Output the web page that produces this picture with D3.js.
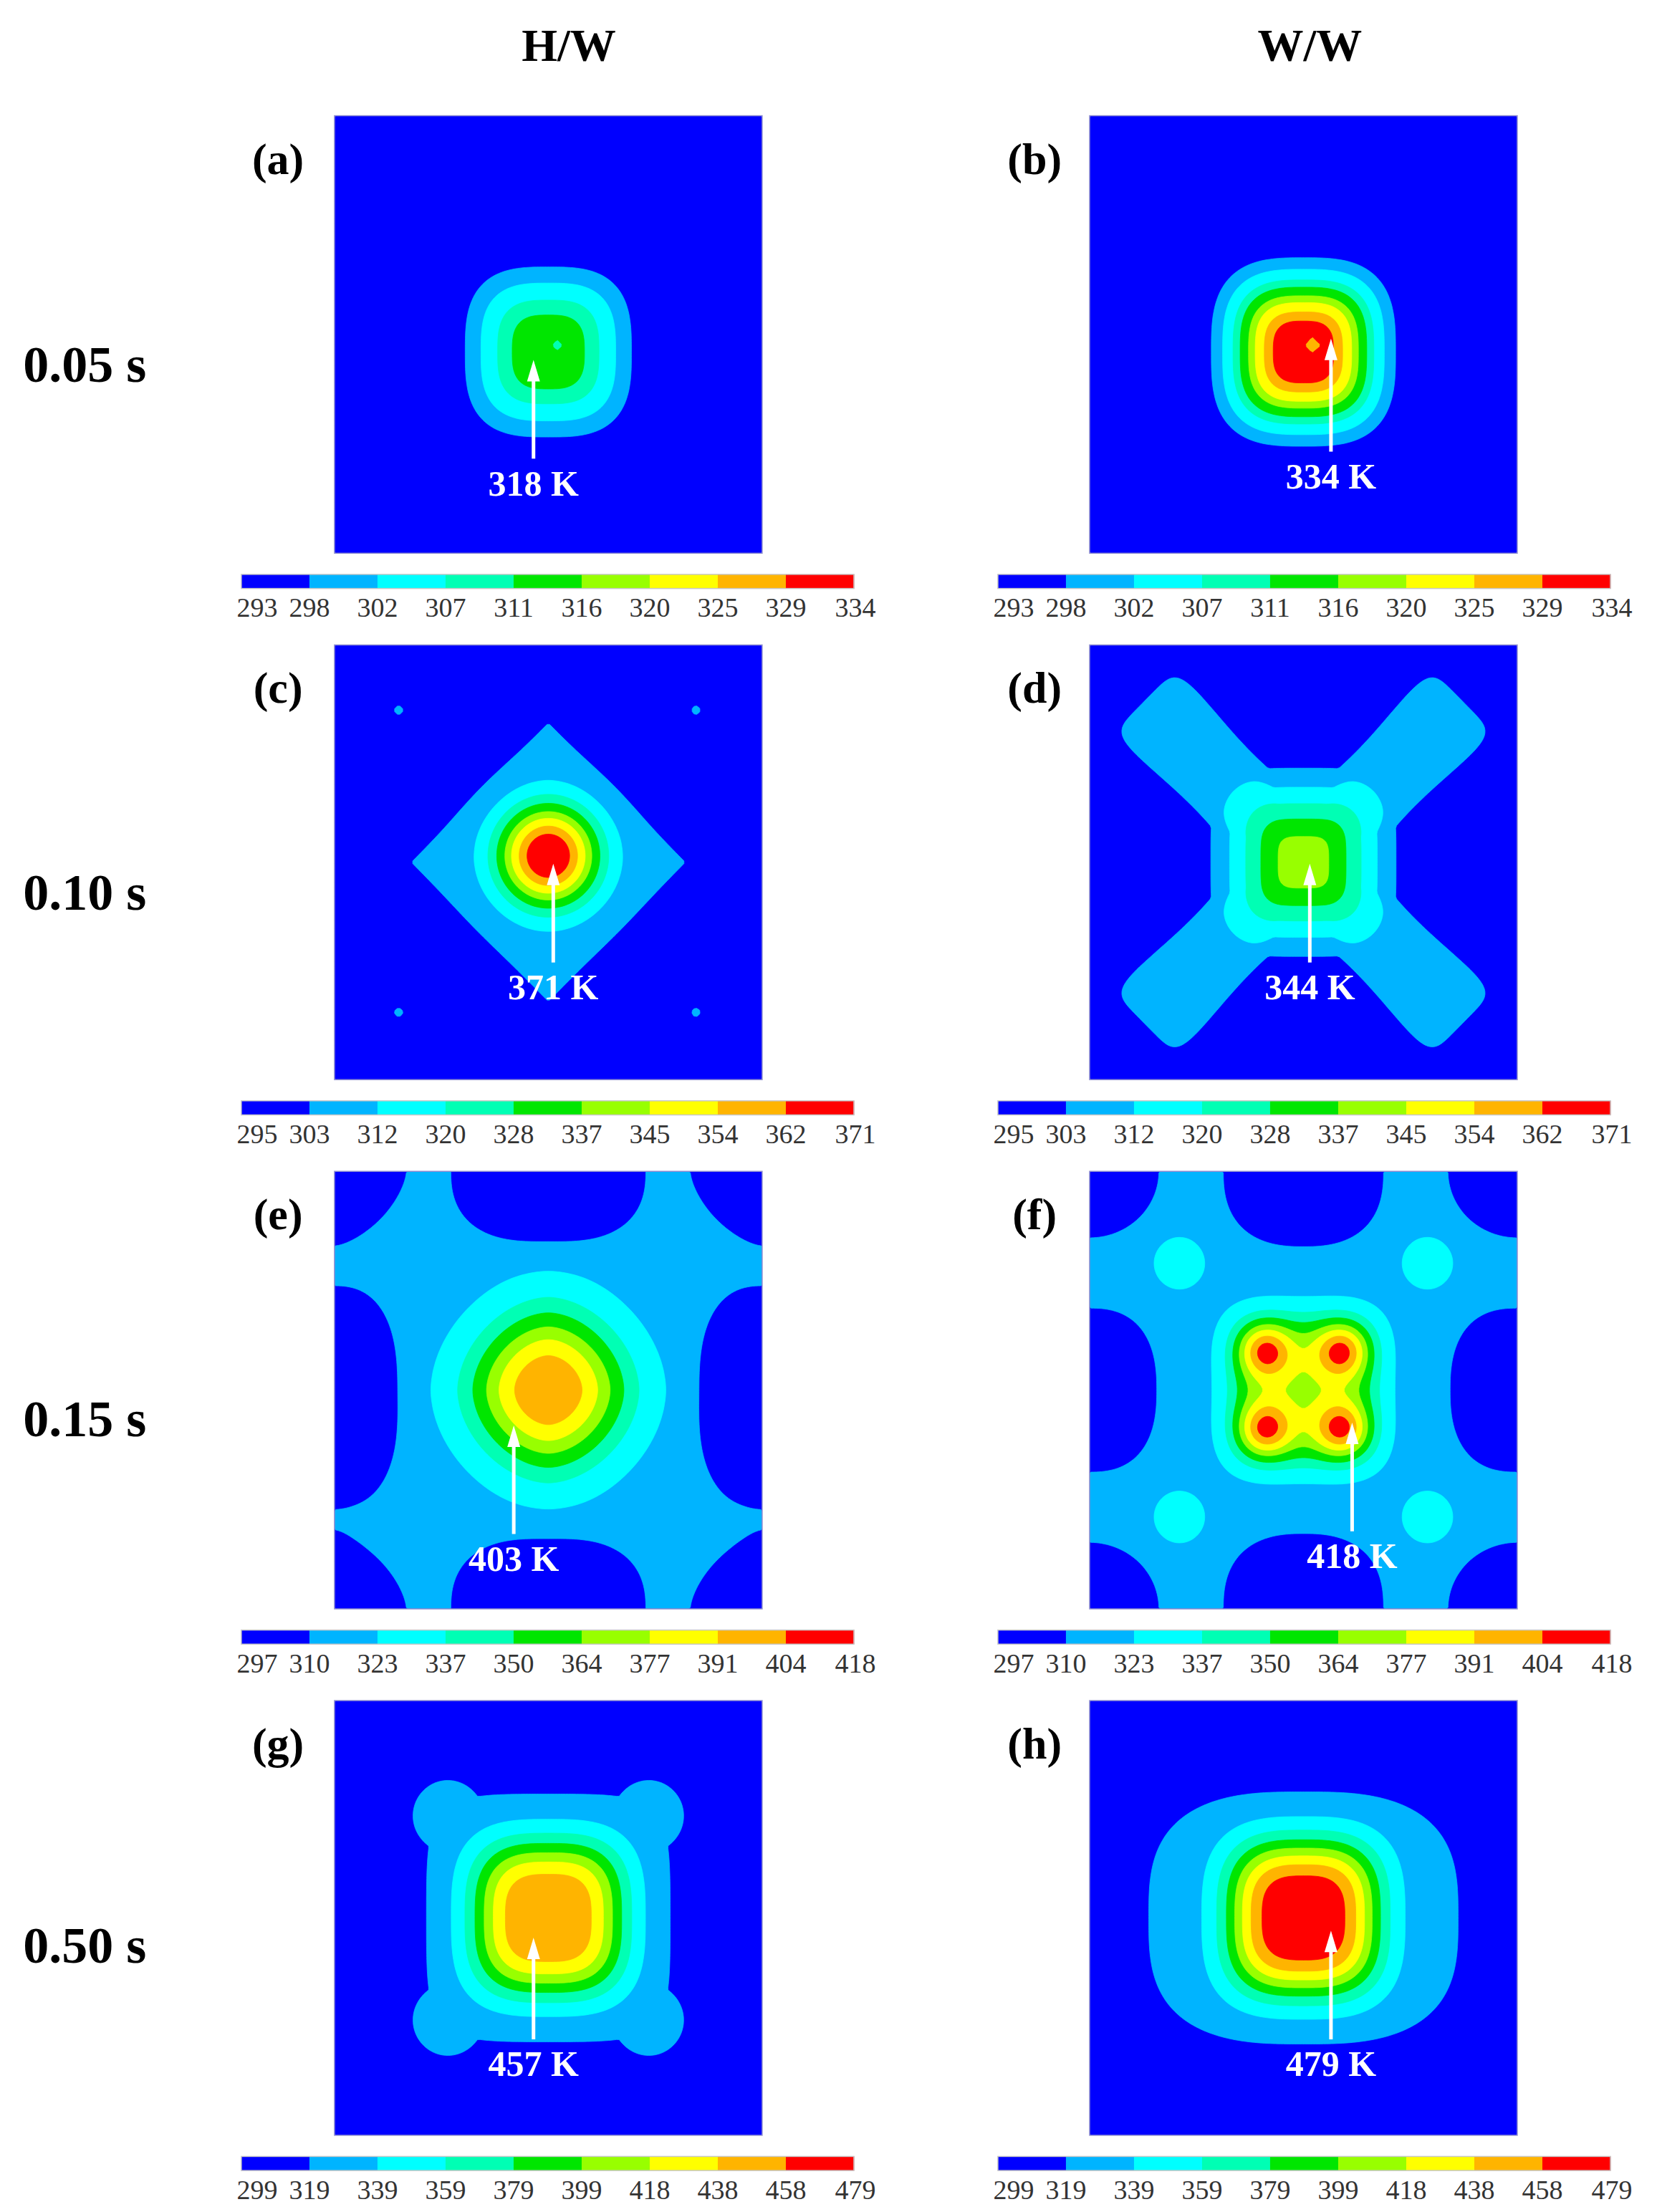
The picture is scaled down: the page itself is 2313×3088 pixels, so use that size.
<!DOCTYPE html>
<html><head><meta charset="utf-8">
<script src="https://cdn.jsdelivr.net/npm/d3@7"></script>
<style>body{margin:0;background:#fff}</style></head>
<body><svg id="c" width="2313" height="3088"></svg>
<script>
// ---- data ----
const columns = ["H/W","W/W"];
const times = ["0.05 s","0.10 s","0.15 s","0.50 s"];
const panelLetters = ["(a)","(b)","(c)","(d)","(e)","(f)","(g)","(h)"];
const tickLabels = [
  [293,298,302,307,311,316,320,325,329,334],
  [295,303,312,320,328,337,345,354,362,371],
  [297,310,323,337,350,364,377,391,404,418],
  [299,319,339,359,379,399,418,438,458,479]
];
const bandColors = ["#0000ff","#00b4ff","#00ffff","#00ffb4","#00e600","#98ff00","#ffff00","#ffb400","#ff0000"];
const peakLabels = ["318 K","334 K","371 K","344 K","403 K","418 K","457 K","479 K"];
const baseT = [293,293,295,295,317,317,299,299];
// components: [kind, cx, cy, sx, sy, amp, p, q]  kind P=plateau(max), A=add, X=diagonal arm (sx=length, sy=w0, q=w slope, cx=+1/-1 direction)
const compA = [["A",0,0.08,0.33,0.33,22,2.4,3],["A",0.04,0.05,0.05,0.05,-5,2,1]];
const compB = [["A",0,0.08,0.32,0.32,41,2.5,3],["A",0.04,0.05,0.05,0.05,-8,2,1]];
const compC = [["P",0,0,0.717,0.717,12,8,1],["A",0,-0.03,0.23,0.23,64,2.26,2],
  ["P",-0.70,-0.70,0.025,0.025,12,4,2],["P",0.69,-0.70,0.025,0.025,12,4,2],["P",-0.70,0.69,0.025,0.025,12,4,2],["P",0.69,0.69,0.025,0.025,12,4,2]];
const compD = [["X",1,0,1.12,0.15,12,6,0.1],["X",-1,0,1.12,0.15,12,6,0.1],["P",0,0,0.44,0.44,12,6,4],["A",0,0,0.27,0.27,37,1.9,4]];
const compE = [["A",0,-1,0.45,0.33,-20,4,2.5],["A",0,1,0.45,0.33,-20,4,2.5],["A",-1,0.03,0.3,0.5,-20,4,2.5],["A",1,0.03,0.3,0.5,-20,4,2.5],
  ["A",-1,-1,0.33,0.33,-20,4,1.6],["A",1,-1,0.33,0.33,-20,4,1.6],["A",-1,1,0.33,0.33,-20,4,1.6],["A",1,1,0.33,0.33,-20,4,1.6],
  ["A",0,0,0.36,0.36,86,2.3,1.8]];
const compF = [["A",0,-1,0.37,0.34,-20,4,2.5],["A",0,1,0.37,0.34,-20,4,2.5],["A",-1,0,0.31,0.37,-20,4,2.5],["A",1,0,0.31,0.37,-20,4,2.5],
  ["A",-1,-1,0.32,0.3,-20,4,2],["A",1,-1,0.32,0.3,-20,4,2],["A",-1,1,0.32,0.3,-20,4,2],["A",1,1,0.32,0.3,-20,4,2],
  ["A",-0.58,-0.58,0.13,0.13,12,4,2],["A",0.58,-0.58,0.13,0.13,12,4,2],["A",-0.58,0.58,0.13,0.13,12,4,2],["A",0.58,0.58,0.13,0.13,12,4,2],
  ["A",0,0,0.35,0.35,55,4,4],
  ["A",-0.18,-0.18,0.12,0.12,46,2,2],["A",0.18,-0.18,0.12,0.12,46,2,2],["A",-0.18,0.18,0.12,0.12,46,2,2],["A",0.18,0.18,0.12,0.12,46,2,2]];
const compG = [["P",0,0,0.63,0.63,30,8,5],["P",-0.47,-0.47,0.22,0.22,30,3,2],["P",0.47,-0.47,0.22,0.22,30,3,2],["P",-0.47,0.47,0.22,0.22,30,3,2],["P",0.47,0.47,0.22,0.22,30,3,2],
  ["A",0,0,0.35,0.35,128,3.3,3]];
const compH = [["P",0,0,0.81,0.64,30,8,3],["A",0,0,0.35,0.35,150,3.2,3]];
const components = [compA,compB,compC,compD,compE,compF,compG,compH];
// annotation positions (reference display units, scaled by K): [labelX, labelY, arrowTopY, arrowBottomY]
const arrowsRef = [[378,343,255,325],[943,338,240,320],[392,700,612,682],[928,700,612,682],[364,1105,1010,1087],[958,1103,1008,1085],[378,1463,1373,1445],[943,1463,1368,1445]];

// ---- layout ----
const K = 2313/1174;
const colX = [[237,540],[772,1075]];
const rowY = [[82,392],[457,765],[830,1140],[1205,1513]];
const cbX = [[171,605],[707,1141]];

const svg = d3.select("#c");
const serif = "'Liberation Serif','Times New Roman',serif";

function field(comps, base, u, v){
  let plat = 0, add = 0;
  for (const c of comps){
    const [k,cx,cy,sx,sy,amp,p,q] = c;
    let val;
    if (k === "X"){
      const s = Math.SQRT1_2;
      const a = (u + cx*v)*s, b = (u - cx*v)*s;
      const w = sy + q*Math.abs(a);
      val = amp*Math.exp(-Math.pow(Math.abs(b)/w, p))*Math.exp(-Math.pow(Math.abs(a)/sx, 14));
      plat = Math.max(plat, val); continue;
    }
    const r = Math.pow(Math.pow(Math.abs(u-cx)/sx,q)+Math.pow(Math.abs(v-cy)/sy,q),1/q);
    val = amp*Math.exp(-Math.pow(r,p));
    if (k === "P") plat = Math.max(plat,val); else add += val;
  }
  return base + plat + add;
}

const N = 160;
svg.append("defs");
for (let idx=0; idx<8; idx++){
  const row = Math.floor(idx/2), col = idx%2;
  const x0 = colX[col][0]*K, x1 = colX[col][1]*K, y0 = rowY[row][0]*K, y1 = rowY[row][1]*K;
  const xs = d3.scaleLinear().domain([0,N]).range([x0,x1]);
  const ys = d3.scaleLinear().domain([0,N]).range([y0,y1]);
  const vals = new Array(N*N);
  for (let j=0;j<N;j++) for (let i=0;i<N;i++){
    const u = -1 + 2*(i+0.5)/N, v = -1 + 2*(j+0.5)/N;
    vals[j*N+i] = field(components[idx], baseT[idx], u, v);
  }
  const lv = tickLabels[row];
  const thr = lv.slice(0,9); thr[0] = -1e9;
  const contours = d3.contours().size([N,N]).thresholds(thr)(vals);
  const proj = d3.geoTransform({point(x,y){ this.stream.point(xs(x), ys(y)); }});
  const path = d3.geoPath(proj);
  svg.select("defs").append("clipPath").attr("id","clip"+idx).append("rect")
    .attr("x",x0).attr("y",y0).attr("width",x1-x0).attr("height",y1-y0);
  const g = svg.append("g").attr("clip-path",`url(#clip${idx})`);
  g.selectAll("path").data(contours).join("path")
    .attr("d",path).attr("fill",(d,i)=>bandColors[i]).attr("stroke",(d,i)=>bandColors[i]).attr("stroke-width",0.8);
  svg.append("rect").attr("x",x0).attr("y",y0).attr("width",x1-x0).attr("height",y1-y0)
    .attr("fill","none").attr("stroke","#8a8ad0").attr("stroke-width",1.5);
  // arrow
  const [lx,ly,ay0,ay1] = arrowsRef[idx];
  const ax = lx*K;
  svg.append("line").attr("x1",ax).attr("x2",ax).attr("y1",(ay0+12)*K).attr("y2",ay1*K)
    .attr("stroke","#fff").attr("stroke-width",5);
  svg.append("path").attr("d",`M${ax},${ay0*K} L${ax-9},${ay0*K+30} L${ax+9},${ay0*K+30} Z`).attr("fill","#fff");
  svg.append("text").attr("x",ax).attr("y",ly*K+16).attr("text-anchor","middle")
    .attr("font-family",serif).attr("font-weight","bold").attr("font-size",50).attr("fill","#fff").text(peakLabels[idx]);
  // letter
  svg.append("text").attr("x",(col?733:197)*K).attr("y",(rowY[row][0]+31)*K+20).attr("text-anchor","middle")
    .attr("font-family",serif).attr("font-weight","bold").attr("font-size",62).attr("fill","#000").text(panelLetters[idx]);
  // colorbar
  const cbTop = (rowY[row][1]+15)*K, cbH = 10*K;
  const cs = d3.scaleLinear().domain([0,9]).range([cbX[col][0]*K, cbX[col][1]*K]);
  const cg = svg.append("g");
  cg.selectAll("rect").data(bandColors).join("rect")
    .attr("x",(d,i)=>cs(i)).attr("width",(d,i)=>cs(i+1)-cs(i)+0.5)
    .attr("y",cbTop).attr("height",cbH).attr("fill",d=>d);
  cg.append("rect").attr("x",cs(0)).attr("y",cbTop).attr("width",cs(9)-cs(0)).attr("height",cbH)
    .attr("fill","none").attr("stroke","#c8c8c8").attr("stroke-width",1.5);
  cg.selectAll("text").data(lv).join("text")
    .attr("x",(d,i)=> i===0 ? cs(0)+22 : (i===9 ? cs(9)+2 : cs(i)))
    .attr("y",(rowY[row][1]+45)*K).attr("text-anchor","middle")
    .attr("font-family",serif).attr("font-size",38).attr("fill","#333").text(d=>d);
}
columns.forEach((c,i)=>{
  svg.append("text").attr("x",(i?928:403)*K).attr("y",32*K+22).attr("text-anchor","middle")
    .attr("font-family",serif).attr("font-weight","bold").attr("font-size",64).text(c);
});
times.forEach((t,i)=>{
  svg.append("text").attr("x",60*K).attr("y",[258,632,1005,1378][i]*K+25).attr("text-anchor","middle")
    .attr("font-family",serif).attr("font-weight","bold").attr("font-size",72).text(t);
});
</script></body></html>
